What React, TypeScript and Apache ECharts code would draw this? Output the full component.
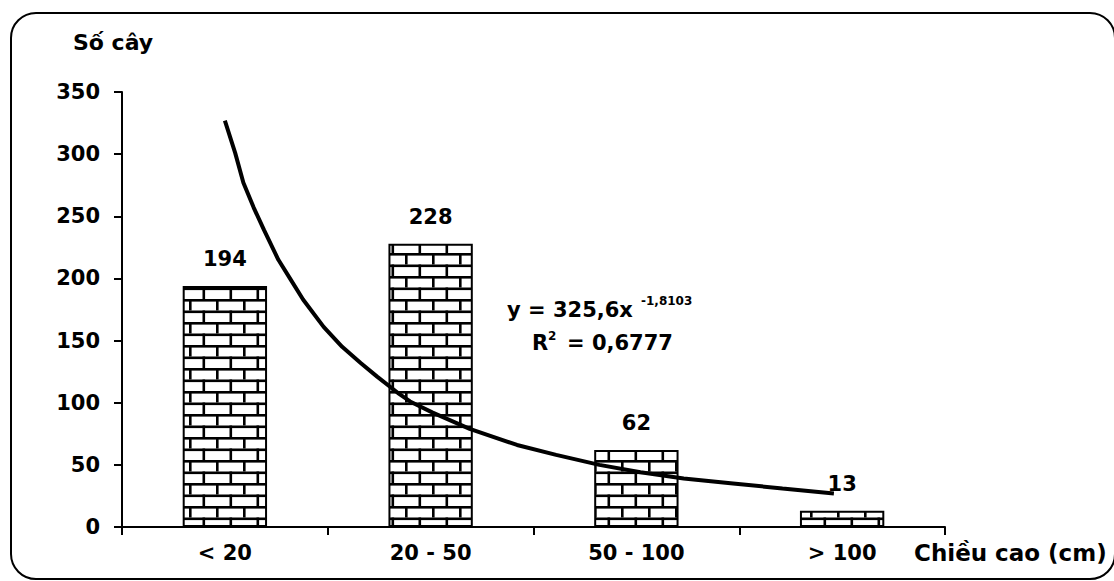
import React, { useEffect, useRef } from "react";
import * as echarts from "echarts";

const categories = ["< 20", "20 - 50", "50 - 100", "> 100"];
const treeCounts = [194, 228, 62, 13];
const yTicks = { min: 0, max: 350, interval: 50 };
// trendline points: [category position (1 = first class), value]
const trendX = [1.0, 1.05, 1.09, 1.14, 1.19, 1.26, 1.32, 1.38, 1.48, 1.57, 1.66, 1.74, 1.84, 1.9, 2.01, 2.19, 2.42, 2.61, 2.82, 3.02, 3.23, 3.47, 3.71, 3.96];
const trendY = [327, 301, 277, 257, 239, 215, 199, 183, 161, 145, 132, 121, 108, 101, 92, 79, 66, 58, 50, 44, 39, 35, 31, 27];
const yTitle = "Số cây";
const xTitle = "Chiều cao (cm)";

const FONT = "DejaVu Sans";

function makeBrick(): HTMLCanvasElement {
  const c = document.createElement("canvas");
  const w = 27;
  const h = 23;
  c.width = w;
  c.height = h;
  const ctx = c.getContext("2d")!;
  ctx.fillStyle = "#ffffff";
  ctx.fillRect(0, 0, w, h);
  ctx.fillStyle = "#000000";
  const lw = 2.6;
  ctx.fillRect(0, 0, w, lw);
  ctx.fillRect(0, 11.5, w, lw);
  ctx.fillRect(0, 0, lw, 11.5);
  ctx.fillRect(13.5, 11.5, lw, h - 11.5);
  return c;
}

export default function App() {
  const ref = useRef<HTMLDivElement>(null);
  useEffect(() => {
    if (!ref.current) return;
    const chart = echarts.init(ref.current, undefined, { renderer: "svg" });
    const brick = makeBrick();
    const pattern: any = {
      image: brick.toDataURL(),
      imageWidth: brick.width,
      imageHeight: brick.height,
      repeat: "repeat",
    };
    const txt = (text: string, x: number, y: number, size: number, align = "left") => ({
      type: "text",
      x,
      y,
      style: {
        text,
        fill: "#000",
        font: `bold ${size}px "${FONT}"`,
        align,
        verticalAlign: "middle",
      },
    });
    chart.setOption({
      animation: false,
      backgroundColor: "#ffffff",
      grid: { left: 122, right: 1114 - 945, top: 92, bottom: 54, containLabel: false },
      xAxis: [
        {
          type: "category",
          data: categories,
          boundaryGap: true,
          axisLine: { lineStyle: { color: "#000", width: 2 } },
          axisTick: { show: true, length: 8, lineStyle: { color: "#000", width: 2 } },
          axisLabel: { color: "#000", fontFamily: FONT, fontWeight: "bold", fontSize: 21, margin: 15 },
        },
        {
          type: "value",
          min: 0.5,
          max: 4.5,
          show: false,
        },
      ],
      yAxis: {
        type: "value",
        min: yTicks.min,
        max: yTicks.max,
        interval: yTicks.interval,
        splitLine: { show: false },
        axisLine: { show: true, lineStyle: { color: "#000", width: 2 } },
        axisTick: { show: true, length: 8, lineStyle: { color: "#000", width: 2 } },
        axisLabel: { color: "#000", fontFamily: FONT, fontWeight: "bold", fontSize: 21, margin: 22 },
      },
      series: [
        {
          type: "bar",
          data: treeCounts,
          barWidth: "41%",
          xAxisIndex: 0,
          itemStyle: { color: pattern, borderColor: "#000", borderWidth: 2 },
          label: {
            show: true,
            position: "top",
            distance: 16,
            color: "#000",
            fontFamily: FONT,
            fontWeight: "bold",
            fontSize: 21,
          },
        },
        {
          type: "line",
          xAxisIndex: 1,
          data: trendX.map((x, i) => [x, trendY[i]]),
          symbol: "none",
          smooth: false,
          lineStyle: { color: "#000", width: 4 },
          z: 5,
        },
      ],
      graphic: [
        {
          type: "rect",
          shape: { x: 11, y: 13, width: 1104, height: 566, r: 25 },
          style: { fill: "none", stroke: "#000", lineWidth: 2 },
          silent: true,
        },
        txt(yTitle, 73, 42, 22),
        txt(xTitle, 914, 553, 23),
        txt("y = 325,6x", 507, 310, 21),
        txt("-1,8103", 641, 301, 12),
        txt("R", 532, 343, 21),
        txt("2", 548, 336, 12),
        txt("= 0,6777", 567, 343, 21),
      ],
    });
    return () => chart.dispose();
  }, []);
  return (
    <div
      ref={ref}
      style={{ position: "fixed", left: 0, top: 0, width: 1114, height: 581, background: "#fff" }}
    />
  );
}
